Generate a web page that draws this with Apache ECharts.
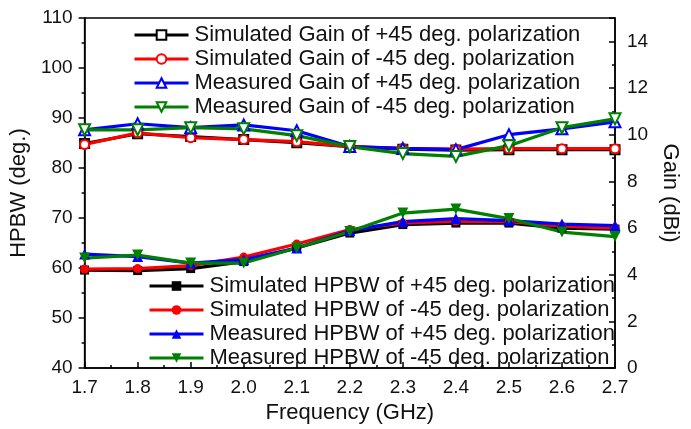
<!DOCTYPE html>
<html>
<head>
<meta charset="utf-8">
<script src="https://cdn.jsdelivr.net/npm/echarts@6/dist/echarts.min.js"></script>
<style>
html, body { margin: 0; padding: 0; background: #fff; }
#chart { width: 691px; height: 429px; }
</style>
</head>
<body>
<div id="chart"></div>
<script>
// Gain + HPBW vs frequency
var freqs = [1.7, 1.8, 1.9, 2.0, 2.1, 2.2, 2.3, 2.4, 2.5, 2.6, 2.7];

// gain (dBi), right axis
var simGainP45 = [9.62, 10.04, 9.92, 9.79, 9.66, 9.49, 9.38, 9.34, 9.36, 9.36, 9.36];
var simGainM45 = [9.58, 10.08, 9.87, 9.79, 9.70, 9.49, 9.41, 9.38, 9.40, 9.40, 9.40];
var measGainP45 = [10.21, 10.47, 10.30, 10.42, 10.17, 9.49, 9.41, 9.36, 10.00, 10.25, 10.55];
var measGainM45 = [10.21, 10.21, 10.30, 10.25, 9.96, 9.49, 9.19, 9.07, 9.53, 10.30, 10.68];

// HPBW (deg.), left axis
var simHpbwP45 = [59.6, 59.5, 59.9, 61.3, 64.0, 67.0, 68.7, 69.0, 69.0, 68.0, 67.8];
var simHpbwM45 = [59.8, 59.9, 60.5, 62.2, 64.8, 67.7, 69.0, 69.4, 69.3, 68.4, 68.0];
var measHpbwP45 = [62.8, 62.3, 61.0, 61.7, 64.0, 67.5, 69.3, 69.9, 69.5, 68.8, 68.5];
var measHpbwM45 = [62.0, 62.6, 61.0, 61.0, 64.0, 67.3, 71.0, 71.8, 69.9, 67.2, 66.3];

var gainNames = ['Simulated Gain of +45 deg. polarization', 'Simulated Gain of -45 deg. polarization',
    'Measured Gain of +45 deg. polarization', 'Measured Gain of -45 deg. polarization'];
var hpbwNames = ['Simulated HPBW of +45 deg. polarization', 'Simulated HPBW of -45 deg. polarization',
    'Measured HPBW of +45 deg. polarization', 'Measured HPBW of -45 deg. polarization'];

var font = '"Liberation Sans", Arial, sans-serif';

function pairs(ys) {
    return freqs.map(function(f, i) { return [f, ys[i]]; });
}

function mkSeries(name, ys, color, symbol, rotate, open, axis) {
    return {
        name: name,
        type: 'line',
        yAxisIndex: axis,
        data: pairs(ys),
        symbol: symbol,
        symbolSize: symbol === 'triangle' ? 11 : 9,
        symbolRotate: rotate,
        showAllSymbol: true,
        color: color,
        lineStyle: { color: color, width: 3.2 },
        itemStyle: open ? { color: '#fff', borderColor: color, borderWidth: 2 } : { color: color },
        animation: false
    };
}

var chart = echarts.init(document.getElementById('chart'));
var legendText = { fontSize: 22, fontFamily: font, color: '#111', padding: [0, 0, 0, 1] };
var option = {
    animation: false,
    grid: { left: 81, right: 76, top: 18, bottom: 57, show: true, borderColor: '#000', borderWidth: 1.5 },
    legend: [
        {
            data: gainNames, orient: 'vertical', left: 128, top: 19, itemGap: 2,
            itemWidth: 54, itemHeight: 12, selectedMode: false,
            lineStyle: { width: 3 },
            textStyle: legendText
        },
        {
            data: hpbwNames, orient: 'vertical', left: 143, top: 270, itemGap: 2,
            itemWidth: 54, itemHeight: 12, selectedMode: false,
            lineStyle: { width: 3 },
            textStyle: legendText
        }
    ],
    xAxis: {
        type: 'value', min: 1.7, max: 2.7, interval: 0.1,
        name: 'Frequency (GHz)', nameLocation: 'middle', nameGap: 31,
        nameTextStyle: { fontSize: 22, fontFamily: font, color: '#111' },
        axisLine: { lineStyle: { color: '#000', width: 1.5 } },
        axisTick: { inside: true, length: 6, lineStyle: { color: '#000', width: 1.5 } },
        minorTick: { show: true, splitNumber: 2, length: 3, lineStyle: { color: '#000', width: 1.5 } },
        splitLine: { show: false },
        axisLabel: { fontSize: 19, fontFamily: font, color: '#111', margin: 10,
            formatter: function(v) { return v.toFixed(1); } }
    },
    yAxis: [
        {
            type: 'value', min: 40, max: 110, interval: 10, position: 'left',
            name: 'HPBW (deg.)', nameLocation: 'middle', nameGap: 49,
            nameTextStyle: { fontSize: 22, fontFamily: font, color: '#111' },
            axisLine: { show: true, lineStyle: { color: '#000', width: 1.5 } },
            axisTick: { show: true, length: 6, lineStyle: { color: '#000', width: 1.5 } },
            minorTick: { show: true, splitNumber: 2, length: 3, lineStyle: { color: '#000', width: 1.5 } },
            splitLine: { show: false },
            axisLabel: { fontSize: 19, fontFamily: font, color: '#111', margin: 12 }
        },
        {
            type: 'value', min: 0, max: 15, interval: 2, position: 'right',
            name: 'Gain (dBi)', nameLocation: 'middle', nameGap: 32, nameRotate: -90,
            nameTextStyle: { fontSize: 22, fontFamily: font, color: '#111' },
            axisLine: { show: true, lineStyle: { color: '#000', width: 1.5 } },
            axisTick: { show: true, inside: true, length: 6, lineStyle: { color: '#000', width: 1.5 } },
            minorTick: { show: true, splitNumber: 2, length: 3, lineStyle: { color: '#000', width: 1.5 } },
            splitLine: { show: false },
            axisLabel: { fontSize: 19, fontFamily: font, color: '#111', margin: 12, showMaxLabel: false }
        }
    ],
    series: [
        mkSeries(gainNames[0], simGainP45, '#000000', 'rect', 0, true, 1),
        mkSeries(gainNames[1], simGainM45, '#ff0000', 'circle', 0, true, 1),
        mkSeries(gainNames[2], measGainP45, '#0000ff', 'triangle', 0, true, 1),
        mkSeries(gainNames[3], measGainM45, '#008000', 'triangle', 180, true, 1),
        mkSeries(hpbwNames[0], simHpbwP45, '#000000', 'rect', 0, false, 0),
        mkSeries(hpbwNames[1], simHpbwM45, '#ff0000', 'circle', 0, false, 0),
        mkSeries(hpbwNames[2], measHpbwP45, '#0000ff', 'triangle', 0, false, 0),
        mkSeries(hpbwNames[3], measHpbwM45, '#008000', 'triangle', 180, false, 0)
    ]
};
chart.setOption(option);
</script>
</body>
</html>
